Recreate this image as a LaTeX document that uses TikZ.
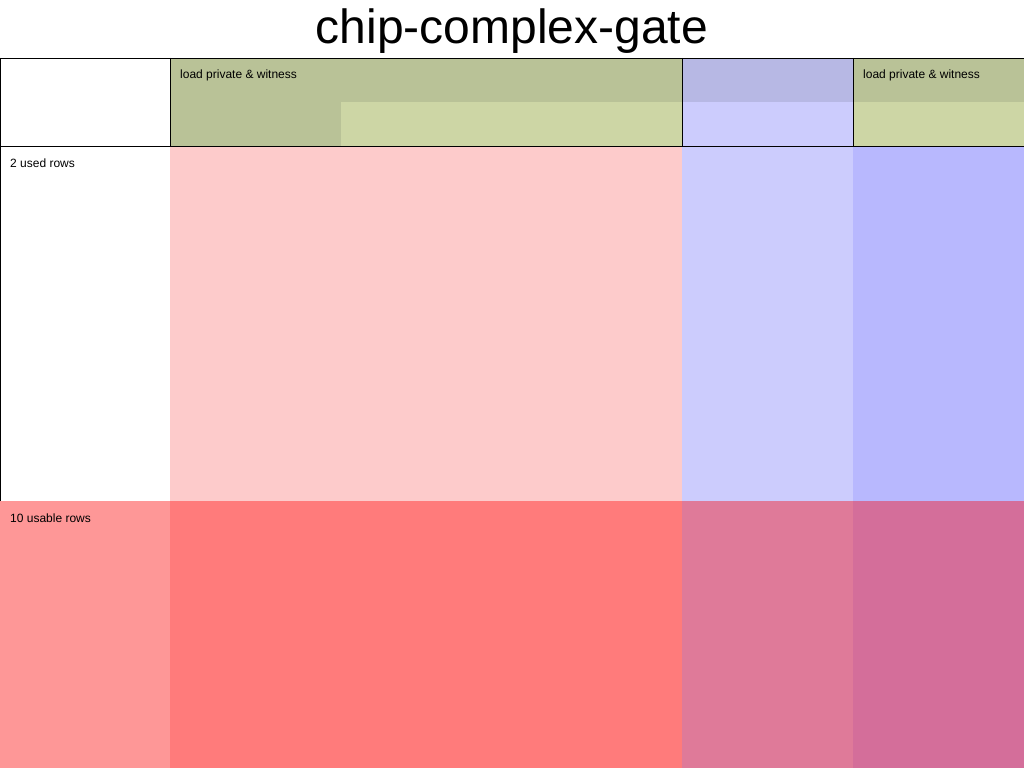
\documentclass[tikz,border=0pt]{standalone}
\usepackage{fontspec}
\setmainfont{Liberation Sans}
\usepackage{tikz}
\definecolor{hdrgreen}{RGB}{185,194,151}
\definecolor{litegreen}{RGB}{205,214,165}
\definecolor{hdrblue}{RGB}{183,184,228}
\definecolor{liteblue}{RGB}{204,204,253}
\definecolor{usedpink}{RGB}{253,203,203}
\definecolor{usedblue}{RGB}{184,184,254}
\definecolor{rowsred}{RGB}{254,151,151}
\definecolor{advred}{RGB}{255,123,123}
\definecolor{fixrose}{RGB}{223,122,153}
\definecolor{selrose}{RGB}{212,110,154}
\tikzset{
  celltext/.style={anchor=base west, inner sep=0pt,
    font=\fontsize{12}{14}\selectfont},
  gridline/.style={line width=1pt, black},
}

\begin{document}
\begin{tikzpicture}[
  x=1pt, y=-1pt,
  titletext/.style={anchor=base, inner sep=0pt,
    font=\fontsize{48}{56}\selectfont}
]
  \useasboundingbox[fill=white] (0,0) rectangle (1024,768);

  % Title
  \node[titletext] (title) at (512,44) {chip-complex-gate};

  % Header row
  \fill[hdrgreen] (170,58) rectangle (682,146);
  \fill[litegreen] (341,102) rectangle (682,146);
  \fill[hdrblue] (682,58) rectangle (853,102);
  \fill[liteblue] (682,102) rectangle (853,146);
  \fill[hdrgreen] (853,58) rectangle (1024,102);
  \fill[litegreen] (853,102) rectangle (1024,146);

  % Used rows
  \fill[usedpink] (170,146) rectangle (682,501);
  \fill[liteblue] (682,146) rectangle (853,501);
  \fill[usedblue] (853,146) rectangle (1024,501);

  % Grid lines
  \draw[gridline] (0,58.5) -- (1024,58.5);
  \draw[gridline] (0,146.5) -- (1024,146.5);
  \draw[gridline] (0.5,58) -- (0.5,501);
  \foreach \xc in {170.5,682.5,853.5}
    \draw[gridline] (\xc,58) -- (\xc,146);

  % Usable rows
  \fill[rowsred] (0,501) rectangle (170,768);
  \fill[advred] (170,501) rectangle (682,768);
  \fill[fixrose] (682,501) rectangle (853,768);
  \fill[selrose] (853,501) rectangle (1024,768);

  % Labels
  \node[celltext] (loadA) at (180,78) {load private \& witness};
  \node[celltext] (loadB) at (863,78) {load private \& witness};
  \node[celltext] (used) at (10,167) {2 used rows};
  \node[celltext] (usable) at (10,522) {10 usable rows};
\end{tikzpicture}
\end{document}
